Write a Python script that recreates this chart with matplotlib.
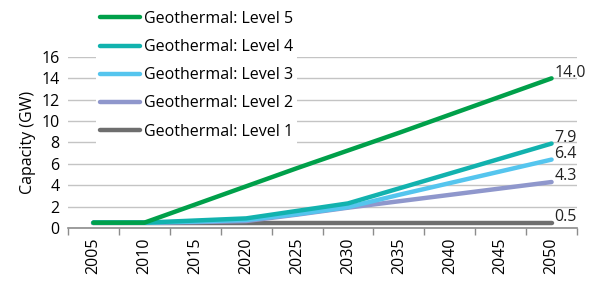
import numpy as np
import matplotlib
matplotlib.use("Agg")
import matplotlib.pyplot as plt

# data
years = ["2005", "2010", "2015", "2020", "2025", "2030", "2035", "2040", "2045", "2050"]
level5 = [0.5, 0.5, 2.2, 3.9, 5.6, 7.25, 8.9, 10.6, 12.3, 14.0]
level4 = [0.5, 0.5, 0.7, 0.9, 1.6, 2.3, 3.7, 5.1, 6.5, 7.9]
level3 = [0.5, 0.5, 0.6, 0.75, 1.3, 1.95, 3.1, 4.2, 5.3, 6.4]
level2 = [0.5, 0.5, 0.55, 0.65, 1.25, 1.9, 2.5, 3.1, 3.7, 4.3]
level1 = [0.5, 0.5, 0.5, 0.5, 0.5, 0.5, 0.5, 0.5, 0.5, 0.5]
end_labels = ["14.0", "7.9", "6.4", "4.3", "0.5"]

series = [
    ("Geothermal: Level 5", level5, "#00A04A"),
    ("Geothermal: Level 4", level4, "#12B2AE"),
    ("Geothermal: Level 3", level3, "#55C5EE"),
    ("Geothermal: Level 2", level2, "#8F97CC"),
    ("Geothermal: Level 1", level1, "#6E6E6E"),
]

plt.rcParams['font.family'] = ['Open Sans', 'DejaVu Sans']
plt.rcParams['font.size'] = 11.5
fs = 11.5

fig = plt.figure(figsize=(5.9, 2.82), dpi=100)
ax = fig.add_axes([0.1153, 0.1915, 0.8627, 0.6065])

x = np.arange(len(years))
# draw from level 1 up so level 5 sits on top
for (name, vals, col), lab in zip(series[::-1], end_labels[::-1]):
    ax.plot(x, vals, color=col, lw=3.2, solid_capstyle='round', label=name)
    ax.annotate(lab, (x[-1], vals[-1]), xytext=(2, 4), textcoords='offset points',
                ha='left', va='center', fontsize=fs, color='#222222')

ax.set_xlim(-0.5, len(years) - 0.5)
ax.set_ylim(0, 16)
ax.set_yticks(np.arange(0, 17, 2))
ax.yaxis.grid(True, color='#C4C4C4', lw=1)
ax.set_axisbelow(True)
ax.tick_params(axis='y', length=0, pad=6, labelsize=fs)

ax.set_xticks(x)
ax.set_xticklabels(years, rotation=90)
ax.set_xticks(np.arange(-0.5, len(years), 1), minor=True)
ax.tick_params(axis='x', which='major', length=0, pad=7, labelsize=fs)
ax.tick_params(axis='x', which='minor', length=5, color='#8C8C8C', width=1)

for s in ['top', 'right', 'left']:
    ax.spines[s].set_visible(False)
ax.spines['bottom'].set_color('#8C8C8C')
ax.spines['bottom'].set_linewidth(1.2)

ax.set_ylabel("Capacity (GW)", fontsize=fs, labelpad=4)

handles, labels = ax.get_legend_handles_labels()
leg = fig.legend(handles[::-1], labels[::-1], loc='upper left',
                 bbox_to_anchor=(0.1635, 0.975), frameon=True, fancybox=False,
                 handlelength=2.5, handletextpad=0.2, labelspacing=0.76,
                 borderaxespad=0.0, borderpad=0.25, fontsize=fs)
leg.get_frame().set_facecolor('white')
leg.get_frame().set_edgecolor('none')
leg.get_frame().set_alpha(1.0)
for line in leg.get_lines():
    line.set_linewidth(3.2)

fig.savefig("out.png", dpi=100)
